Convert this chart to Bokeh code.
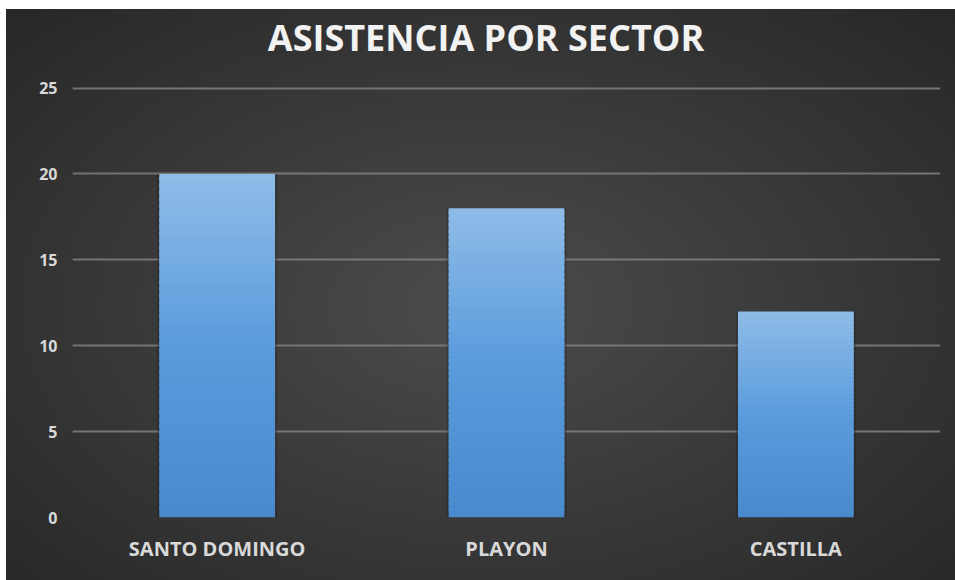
from bokeh.plotting import figure
from bokeh.models import ColumnDataSource, FixedTicker, Div
from bokeh.layouts import column
from bokeh.embed import file_html
from bokeh.resources import INLINE

categories = ["SANTO DOMINGO", "PLAYON", "CASTILLA"]
values = [20, 18, 12]
y_ticks = [0, 5, 10, 15, 20, 25]
title_text = "ASISTENCIA POR SECTOR"

# gradient stops (fraction from bottom of bar -> rgb)
stops = [(0.0, (72, 138, 205)), (0.5, (90, 155, 220)), (1.0, (143, 188, 232))]

def grad_color(f):
    for (f0, c0), (f1, c1) in zip(stops[:-1], stops[1:]):
        if f0 <= f <= f1:
            t = (f - f0) / (f1 - f0)
            c = [int(round(a + (b - a) * t)) for a, b in zip(c0, c1)]
            return "#%02x%02x%02x" % tuple(c)
    return "#%02x%02x%02x" % stops[-1][1]

N = 50
xs, bots, tops, cols = [], [], [], []
for cat, v in zip(categories, values):
    for i in range(N):
        xs.append(cat)
        bots.append(v * i / N)
        tops.append(min(v, v * (i + 1.6) / N))
        cols.append(grad_color((i + 0.5) / N))
src = ColumnDataSource(dict(x=xs, bottom=bots, top=tops, color=cols))

p = figure(x_range=categories, y_range=(0, 25.5), width=949, height=511,
           output_backend="svg", toolbar_location=None, margin=0,
           min_border_left=66, min_border_right=15, min_border_top=10, min_border_bottom=63)

p.border_fill_color = None
p.background_fill_color = None
p.outline_line_color = None

# bar halo
p.vbar(x=categories, top=values, width=0.415, bottom=0, fill_color="#1e1e1e", fill_alpha=0.3, line_color=None)
p.vbar(x="x", bottom="bottom", top="top", width=0.4, fill_color="color", line_color=None, source=src)

p.xgrid.grid_line_color = None
p.ygrid.ticker = FixedTicker(ticks=y_ticks[1:])
p.ygrid.grid_line_color = "#808080"
p.ygrid.grid_line_width = 2
p.ygrid.grid_line_alpha = 0.85
p.ygrid.level = "underlay"

p.yaxis.ticker = FixedTicker(ticks=y_ticks)
for ax in (p.xaxis, p.yaxis):
    ax.axis_line_color = None
    ax.major_tick_line_color = None
    ax.minor_tick_line_color = None
    ax.major_tick_out = 0
    ax.major_tick_in = 0
    ax.major_label_text_color = "#d9d9d9"
    ax.major_label_text_font = "Open Sans"
    ax.major_label_text_font_style = "bold"
p.yaxis.major_label_text_font_size = "16px"
p.xaxis.major_label_text_font_size = "20px"
p.yaxis.major_label_standoff = 15
p.xaxis.major_label_standoff = 17

title = Div(text=title_text, width=949, height=60, margin=0,
            styles={"font-family": "'Open Sans'", "font-size": "36px", "font-weight": "bold",
                    "color": "#f2f2f2", "text-align": "center", "line-height": "58px",
                    "padding-left": "11px", "box-sizing": "border-box", "width": "949px"})

layout = column(title, p, spacing=0, margin=0)
layout.styles = {"background-image": "radial-gradient(ellipse at 50% 52%, #4c4c4c 0%, #3b3b3b 45%, #272727 100%)",
                 "margin-left": "6px", "margin-top": "9px"}

open("out.html", "w").write(file_html(layout, INLINE))
